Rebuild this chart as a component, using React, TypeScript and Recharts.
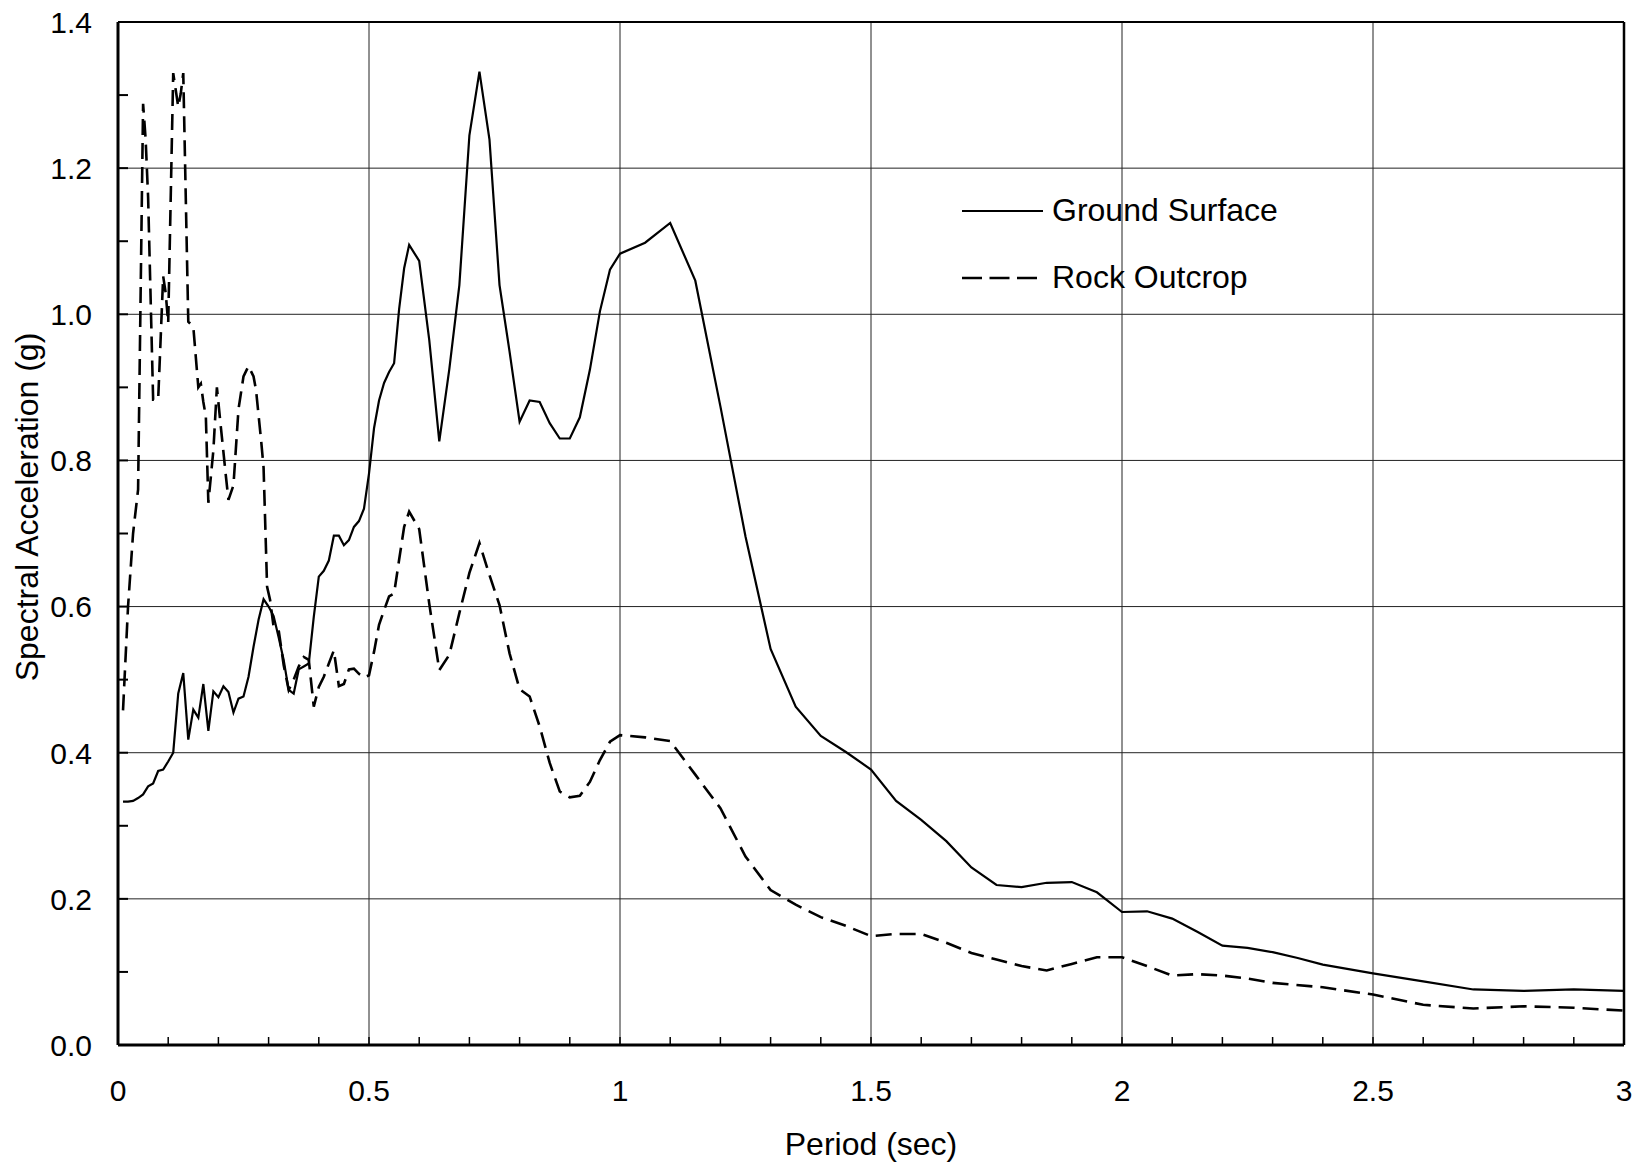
import React from 'react';
import { LineChart, Line, XAxis, YAxis, ReferenceLine, Legend, Label } from 'recharts';

// period (sec) and spectral acceleration (g)
const groundT = [
  0.01, 0.02, 0.03, 0.04, 0.05, 0.06, 0.07, 0.08, 0.09, 0.10,
  0.11, 0.12, 0.13, 0.14, 0.15, 0.16, 0.17, 0.18, 0.19, 0.20,
  0.21, 0.22, 0.23, 0.24, 0.25, 0.26, 0.27, 0.28, 0.29, 0.30,
  0.31, 0.32, 0.33, 0.34, 0.35, 0.36, 0.37, 0.38, 0.39, 0.40,
  0.41, 0.42, 0.43, 0.44, 0.45, 0.46, 0.47, 0.48, 0.49, 0.50,
  0.51, 0.52, 0.53, 0.54, 0.55, 0.56, 0.57, 0.58, 0.60, 0.62,
  0.64, 0.66, 0.68, 0.70, 0.72, 0.74, 0.76, 0.78, 0.80, 0.82,
  0.84, 0.86, 0.88, 0.90, 0.92, 0.94, 0.96, 0.98, 1.00, 1.05,
  1.10, 1.15, 1.20, 1.25, 1.30, 1.35, 1.40, 1.45, 1.50, 1.55,
  1.60, 1.65, 1.70, 1.75, 1.80, 1.85, 1.90, 1.95, 2.00, 2.05,
  2.10, 2.15, 2.20, 2.25, 2.30, 2.35, 2.40, 2.50, 2.60, 2.70,
  2.80, 2.90, 3.00,
];
const groundSa = [
  0.333, 0.333, 0.334, 0.338, 0.343, 0.354, 0.358, 0.375, 0.377, 0.388,
  0.400, 0.481, 0.509, 0.418, 0.459, 0.448, 0.494, 0.430, 0.484, 0.476,
  0.491, 0.483, 0.455, 0.474, 0.477, 0.504, 0.545, 0.582, 0.610, 0.600,
  0.587, 0.558, 0.527, 0.486, 0.481, 0.514, 0.518, 0.522, 0.586, 0.641,
  0.649, 0.663, 0.697, 0.697, 0.684, 0.691, 0.709, 0.717, 0.734, 0.782,
  0.844, 0.882, 0.906, 0.921, 0.933, 1.007, 1.063, 1.095, 1.073, 0.965,
  0.826, 0.925, 1.040, 1.245, 1.332, 1.239, 1.040, 0.949, 0.853, 0.882,
  0.880, 0.851, 0.830, 0.830, 0.859, 0.924, 1.004, 1.061, 1.083, 1.098,
  1.125, 1.046, 0.874, 0.696, 0.542, 0.463, 0.423, 0.401, 0.377, 0.334,
  0.308, 0.279, 0.243, 0.219, 0.216, 0.222, 0.223, 0.209, 0.182, 0.183,
  0.173, 0.155, 0.136, 0.133, 0.127, 0.119, 0.110, 0.098, 0.087, 0.076,
  0.074, 0.076, 0.074,
];

const rockT = [
  0.01, 0.02, 0.03, 0.04, 0.05, 0.055, 0.06, 0.07, 0.08, 0.09,
  0.095, 0.10, 0.11, 0.12, 0.125, 0.13, 0.14, 0.15, 0.16, 0.165,
  0.17, 0.175, 0.18, 0.19, 0.197, 0.205, 0.215, 0.22, 0.23, 0.24,
  0.25, 0.26, 0.27, 0.275, 0.285, 0.29, 0.297, 0.303, 0.31, 0.32,
  0.33, 0.34, 0.35, 0.36, 0.37, 0.38, 0.39, 0.40, 0.41, 0.42,
  0.43, 0.44, 0.45, 0.46, 0.47, 0.48, 0.49, 0.50, 0.51, 0.52,
  0.53, 0.54, 0.55, 0.56, 0.57, 0.58, 0.60, 0.62, 0.64, 0.66,
  0.68, 0.70, 0.72, 0.74, 0.76, 0.78, 0.80, 0.82, 0.84, 0.86,
  0.88, 0.90, 0.92, 0.94, 0.96, 0.98, 1.00, 1.05, 1.10, 1.15,
  1.20, 1.25, 1.30, 1.35, 1.40, 1.45, 1.50, 1.55, 1.60, 1.65,
  1.70, 1.75, 1.80, 1.85, 1.90, 1.95, 2.00, 2.05, 2.10, 2.15,
  2.20, 2.25, 2.30, 2.40, 2.50, 2.60, 2.70, 2.80, 2.90, 3.00,
];
const rockSa = [
  0.458, 0.600, 0.700, 0.760, 1.288, 1.240, 1.160, 0.883, 0.883, 1.052,
  1.029, 0.988, 1.330, 1.284, 1.302, 1.330, 0.990, 0.983, 0.900, 0.905,
  0.880, 0.860, 0.742, 0.814, 0.900, 0.845, 0.778, 0.746, 0.766, 0.870,
  0.915, 0.929, 0.915, 0.896, 0.828, 0.790, 0.627, 0.609, 0.572, 0.568,
  0.520, 0.486, 0.500, 0.518, 0.531, 0.527, 0.463, 0.490, 0.504, 0.522,
  0.540, 0.491, 0.494, 0.514, 0.515, 0.508, 0.503, 0.506, 0.538, 0.575,
  0.595, 0.614, 0.618, 0.664, 0.709, 0.730, 0.706, 0.604, 0.513, 0.534,
  0.591, 0.646, 0.687, 0.643, 0.602, 0.536, 0.487, 0.477, 0.436, 0.386,
  0.347, 0.339, 0.341, 0.360, 0.390, 0.415, 0.424, 0.421, 0.416, 0.370,
  0.324, 0.258, 0.212, 0.192, 0.175, 0.163, 0.149, 0.152, 0.152, 0.140,
  0.126, 0.117, 0.108, 0.102, 0.111, 0.120, 0.120, 0.108, 0.095, 0.097,
  0.095, 0.091, 0.085, 0.079, 0.069, 0.055, 0.050, 0.053, 0.051, 0.047,
];

const xTicks = [
  0, 0.1, 0.2, 0.3, 0.4, 0.5, 0.6, 0.7, 0.8, 0.9, 1, 1.1, 1.2, 1.3, 1.4, 1.5,
  1.6, 1.7, 1.8, 1.9, 2, 2.1, 2.2, 2.3, 2.4, 2.5, 2.6, 2.7, 2.8, 2.9, 3,
];
const yTicks = [0, 0.1, 0.2, 0.3, 0.4, 0.5, 0.6, 0.7, 0.8, 0.9, 1.0, 1.1, 1.2, 1.3, 1.4];
const xGrid = [0.5, 1, 1.5, 2, 2.5];
const yGrid = [0.2, 0.4, 0.6, 0.8, 1.0, 1.2];

const groundData = groundT.map((t, i) => ({ t, sa: groundSa[i] }));
const rockData = rockT.map((t, i) => ({ t, sa: rockSa[i] }));

const FONT = '"Liberation Sans", Arial, sans-serif';
const DASH = '16 8';

const XTick = (props: any) => {
  const { x, y, payload } = props;
  const v = payload.value;
  const major = Math.round(v * 10) % 5 === 0;
  return (
    <g>
      <line x1={x} x2={x} y1={y} y2={y - 8} stroke="#000" strokeWidth={1.5} />
      {major && (
        <text x={x} y={y + 56} textAnchor="middle" fontSize={30} fontFamily={FONT} fill="#000">
          {String(v)}
        </text>
      )}
    </g>
  );
};

const YTick = (props: any) => {
  const { x, y, payload } = props;
  const v = payload.value;
  const major = Math.round(v * 10) % 2 === 0;
  return (
    <g>
      <line x1={x} x2={x + 10} y1={y} y2={y} stroke="#000" strokeWidth={2} />
      {major && (
        <text x={x - 26} y={y} dy="0.36em" textAnchor="end" fontSize={30} fontFamily={FONT} fill="#000">
          {v.toFixed(1)}
        </text>
      )}
    </g>
  );
};

const renderLegend = () => (
  <div style={{ fontFamily: FONT, fontSize: 32, color: '#000' }}>
    <div style={{ display: 'flex', alignItems: 'center', height: 67 }}>
      <svg width={90} height={20}>
        <line x1={0} x2={81} y1={10} y2={10} stroke="#000" strokeWidth={2.2} />
      </svg>
      <span>Ground Surface</span>
    </div>
    <div style={{ display: 'flex', alignItems: 'center', height: 67 }}>
      <svg width={90} height={20}>
        <line x1={0} x2={75} y1={10} y2={10} stroke="#000" strokeWidth={2.6} strokeDasharray="20 7.5" />
      </svg>
      <span>Rock Outcrop</span>
    </div>
  </div>
);

export default function App() {
  return (
    <div style={{ position: 'absolute', left: 0, top: 0, fontFamily: FONT }}>
      <LineChart width={1642} height={1166} margin={{ top: 22, right: 18, bottom: 0, left: 0 }}>
        <XAxis
          dataKey="t"
          type="number"
          domain={[0, 3]}
          ticks={xTicks}
          interval={0}
          tickSize={0}
          tickMargin={0}
          tickLine={false}
          tick={<XTick />}
          height={121}
          axisLine={{ stroke: '#000', strokeWidth: 3 }}
          allowDataOverflow
        >
          <Label
            content={() => (
              <text x={871} y={1155} textAnchor="middle" fontSize={32} fontFamily={FONT} fill="#000">
                Period (sec)
              </text>
            )}
          />
        </XAxis>
        <YAxis
          type="number"
          domain={[0, 1.4]}
          ticks={yTicks}
          interval={0}
          tickSize={0}
          tickMargin={0}
          tickLine={false}
          tick={<YTick />}
          width={118}
          axisLine={{ stroke: '#000', strokeWidth: 3 }}
          allowDataOverflow
        >
          <Label
            content={() => (
              <text
                x={38}
                y={507}
                transform="rotate(-90 38 507)"
                textAnchor="middle"
                fontSize={32}
                fontFamily={FONT}
                fill="#000"
              >
                Spectral Acceleration (g)
              </text>
            )}
          />
        </YAxis>
        {yGrid.map((v) => (
          <ReferenceLine key={'y' + v} y={v} stroke="#222" strokeWidth={1} />
        ))}
        {xGrid.map((v) => (
          <ReferenceLine key={'x' + v} x={v} stroke="#222" strokeWidth={1} />
        ))}
        <ReferenceLine y={1.4} stroke="#000" strokeWidth={2} />
        <ReferenceLine x={3} stroke="#000" strokeWidth={2.5} />
        <Legend
          layout="horizontal"
          verticalAlign="middle"
          align="center"
          content={renderLegend}
          wrapperStyle={{ position: 'absolute', left: 962, top: 177, width: 360 }}
        />
        <Line
          data={groundData}
          dataKey="sa"
          name="Ground Surface"
          type="linear"
          stroke="#000"
          strokeWidth={2.2}
          dot={false}
          isAnimationActive={false}
        />
        <Line
          data={rockData}
          dataKey="sa"
          name="Rock Outcrop"
          type="linear"
          stroke="#000"
          strokeWidth={2.6}
          strokeDasharray={DASH}
          dot={false}
          isAnimationActive={false}
        />
      </LineChart>
    </div>
  );
}
